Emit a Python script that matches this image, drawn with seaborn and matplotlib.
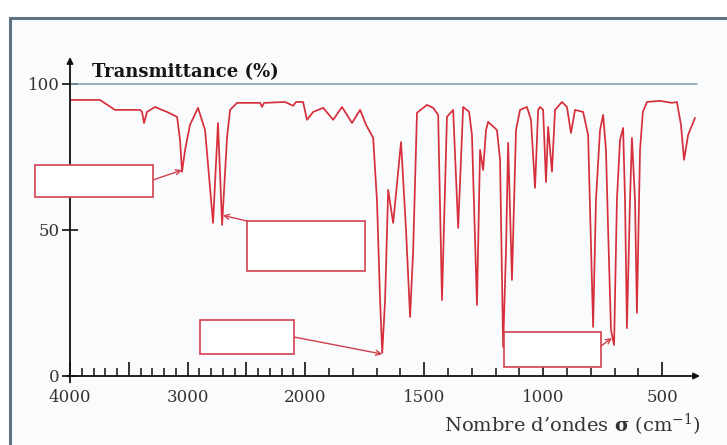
import numpy as np
import pandas as pd
import matplotlib
matplotlib.use("Agg")
import matplotlib.pyplot as plt
from matplotlib.patches import Rectangle
from matplotlib.ticker import FixedLocator, FuncFormatter
import seaborn as sns

# ---- data ----
wavenumber = [4000, 3745, 3617, 3404, 3387, 3370, 3345, 3277, 3175, 3089,
              3064, 3047, 3021, 2979, 2911, 2851, 2783, 2741, 2706, 2664,
              2638, 2579, 2383, 2366, 2349, 2170, 2102, 2077, 2017, 1992,
              1966, 1924, 1882, 1845, 1803, 1769, 1744, 1714, 1698, 1685,
              1676, 1664, 1651, 1630, 1597, 1576, 1559, 1546, 1530, 1488,
              1462, 1441, 1425, 1404, 1378, 1357, 1336, 1311, 1299, 1278,
              1265, 1252, 1240, 1231, 1194, 1181, 1168, 1156, 1147, 1131,
              1114, 1097, 1068, 1051, 1034, 1021, 1013, 1000, 988, 979,
              963, 950, 921, 900, 883, 866, 832, 811, 790, 778,
              761, 748, 736, 727, 715, 702, 690, 677, 664, 656,
              648, 635, 627, 614, 606, 593, 581, 564, 510, 459,
              438, 421, 408, 391, 362]
transmittance = [94.5, 94.5, 91.1, 91.1, 90.4, 86.6, 90.4, 92.1, 90.4, 88.7,
                 80.8, 69.9, 77.4, 86.0, 91.8, 84.2, 52.4, 86.6, 51.7, 81.8,
                 91.1, 93.5, 93.5, 92.1, 93.5, 93.8, 92.5, 93.8, 93.8, 87.7,
                 90.4, 91.8, 87.7, 92.1, 86.6, 91.1, 86.0, 81.5, 60.0, 26.0,
                 7.9, 26.0, 63.7, 52.4, 80.1, 50.0, 20.2, 43.0, 90.1, 92.8,
                 91.8, 89.4, 26.0, 88.7, 91.1, 50.7, 92.1, 90.4, 82.5, 24.3,
                 77.4, 70.5, 84.2, 87.0, 84.2, 74.0, 9.9, 43.0, 79.8, 32.9,
                 84.2, 91.1, 92.1, 87.7, 64.4, 91.1, 92.1, 91.1, 66.4, 85.3,
                 69.9, 91.1, 93.8, 92.1, 83.2, 91.1, 90.4, 82.5, 16.8, 60.3,
                 84.2, 89.4, 77.4, 50.0, 15.8, 10.6, 60.3, 80.8, 84.9, 60.3,
                 16.4, 60.3, 81.5, 60.3, 21.6, 77.4, 90.4, 93.8, 94.2, 93.5,
                 93.8, 86.0, 74.0, 82.5, 88.4]
x_tick_labels = [4000, 3000, 2000, 1500, 1000, 500]
y_tick_labels = [0, 50, 100]
y_label = "Transmittance (%)"
x_label = "Nombre d\u2019ondes $\\mathbf{\\sigma}$ (cm$^{-1}$)"

df = pd.DataFrame({"sigma": wavenumber, "T": transmittance})

sns.set_style("white")
plt.rcParams["font.family"] = ["DejaVu Serif"]
plt.rcParams["mathtext.fontset"] = "dejavuserif"

W, H = 727, 445
fig = plt.figure(figsize=(W / 100, H / 100), dpi=100)
fig.patch.set_facecolor("white")

def fx(px):
    return px / W

def fy(py):
    return 1 - py / H

# outer frame (right and bottom edges fall outside the picture)
fig.add_artist(Rectangle((fx(10), fy(450)), fx(730), (450 - 18) / H,
                         transform=fig.transFigure, facecolor="#f9fbfd",
                         edgecolor="#5f7383", lw=2.2, zorder=0))

ax = fig.add_axes([fx(70), fy(376), fx(630), (376 - 57) / H])
ax.set_facecolor("none")

# piecewise scale: below 2000 cm-1 the axis is expanded x2
def fwd(s):
    s = np.asarray(s, dtype=float)
    return np.where(s >= 2000, s, 2000 + (s - 2000) * 2.025)

def inv(u):
    u = np.asarray(u, dtype=float)
    return np.where(u >= 2000, u, 2000 + (u - 2000) / 2.025)

ax.set_xscale("function", functions=(fwd, inv))

ax.axhline(100, xmin=0, xmax=(697 - 70) / 630, color="#7d9dac", lw=1.1, zorder=1)

sns.lineplot(data=df, x="sigma", y="T", ax=ax, color="#d62f3b", lw=1.25,
             estimator=None, sort=False, zorder=3)

ax.set_xlim(4000, 341)
ax.set_ylim(0, 109.2)

for s in ax.spines.values():
    s.set_visible(False)

# axes with arrows
ax.annotate("", xy=(1, 0), xytext=(-0.005, 0), xycoords="axes fraction",
            arrowprops=dict(arrowstyle="-|>", color="#111111", lw=1.3,
                            mutation_scale=9, shrinkA=0, shrinkB=0))
ax.annotate("", xy=(0, 1), xytext=(0, -0.02), xycoords="axes fraction",
            arrowprops=dict(arrowstyle="-|>", color="#111111", lw=1.3,
                            mutation_scale=9, shrinkA=0, shrinkB=0))

majors = list(range(4000, 499, -500))
ax.xaxis.set_major_locator(FixedLocator(majors))
ax.xaxis.set_minor_locator(FixedLocator(list(range(4000, 499, -100))))
ax.xaxis.set_major_formatter(FuncFormatter(
    lambda v, p: str(int(round(v))) if int(round(v)) in x_tick_labels else ""))
ax.yaxis.set_major_locator(FixedLocator(y_tick_labels))
ax.yaxis.set_major_formatter(FuncFormatter(lambda v, p: str(int(round(v)))))
ax.tick_params(axis="x", which="major", direction="in", length=10, width=1.2,
               color="#111111", labelsize=12, labelcolor="#333333", pad=9,
               bottom=True)
ax.tick_params(axis="x", which="minor", direction="in", length=6, width=1.1,
               color="#111111", bottom=True)
ax.tick_params(axis="y", which="major", direction="inout", length=11,
               width=1.2, color="#111111", labelsize=12, labelcolor="#333333",
               pad=2, left=True)
ax.set_xlabel("")
ax.set_ylabel("")

# axis titles
fig.text(fx(92), fy(72), y_label, fontsize=13, fontweight="bold",
         color="#151515", ha="left", va="center")
fig.text(fx(700), fy(425), x_label, fontsize=14, color="#333333",
         ha="right", va="center")

# empty label boxes with arrows
box_color = "#d2404e"
boxes = [(35, 165, 153, 197), (247, 221, 365, 271),
         (200, 320, 294, 354), (504, 332, 601, 367)]
for (x0, y0, x1, y1) in boxes:
    fig.add_artist(Rectangle((fx(x0), fy(y1)), fx(x1 - x0), (y1 - y0) / H,
                             transform=fig.transFigure, facecolor="white",
                             edgecolor=box_color, lw=1.2, zorder=5))

arrows = [((153, 180), (3047, 70.5)),
          ((247, 221), (2700, 55.0)),
          ((294, 337), (1676, 7.5)),
          ((601, 346), (711, 13.0))]
for (start, tip) in arrows:
    ax.annotate("", xy=tip, xycoords="data",
                xytext=(fx(start[0]), fy(start[1])), textcoords="figure fraction",
                arrowprops=dict(arrowstyle="->", color=box_color, lw=1.0,
                                mutation_scale=9, shrinkA=0, shrinkB=0),
                zorder=6)

fig.savefig("out.png", dpi=100)
